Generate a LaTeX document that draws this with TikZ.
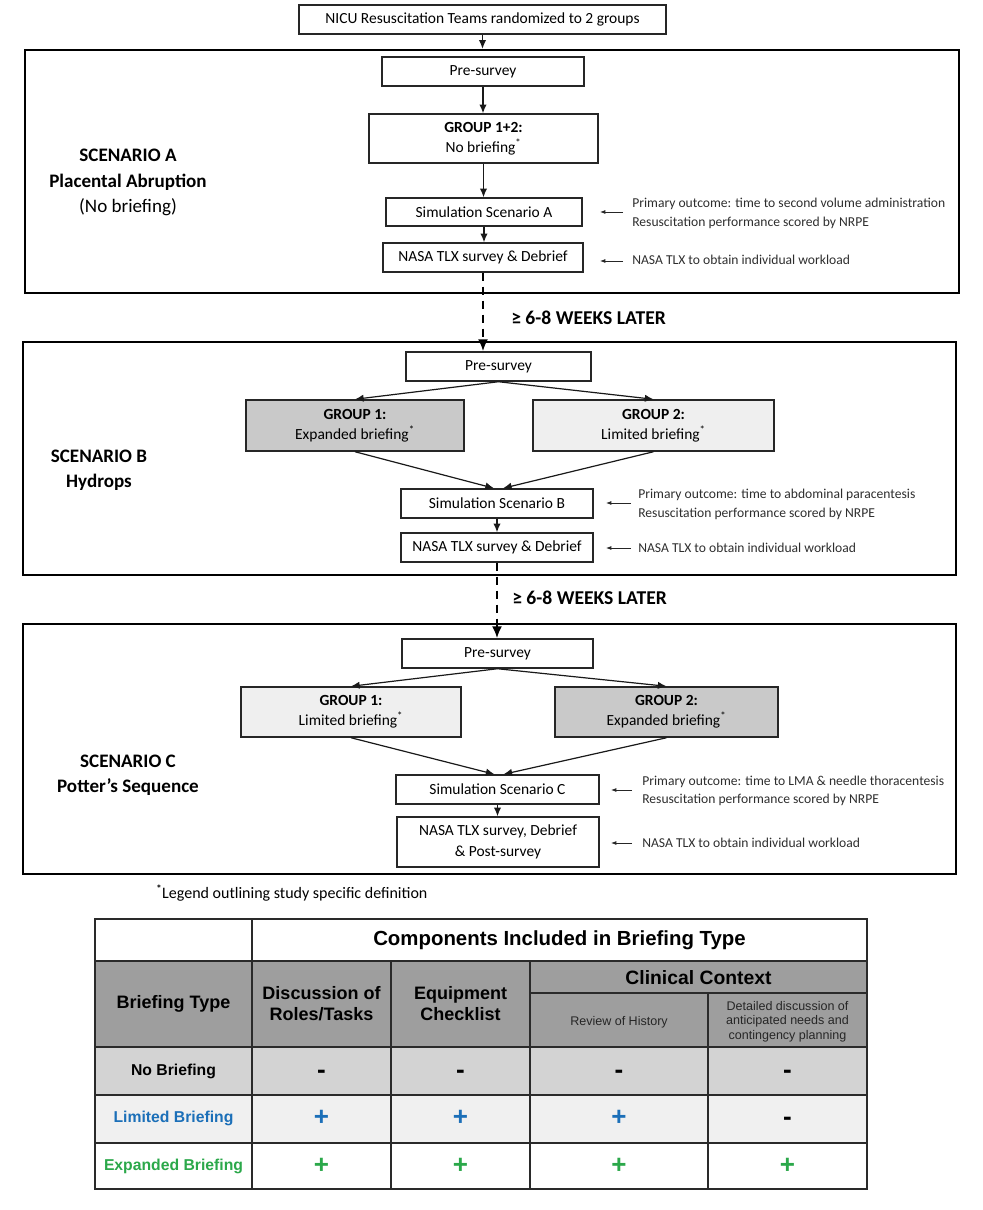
\documentclass[tikz,border=0pt]{standalone}
\usepackage{fontspec}
\setmainfont{Carlito}
\newfontfamily\arialf{Liberation Sans}
\usetikzlibrary{arrows.meta,calc}
\newdimen\pxu \pxu=0.75pt
\definecolor{gdark}{HTML}{C9C9C9}
\definecolor{glight}{HTML}{EFEFEF}
\definecolor{thead}{HTML}{9E9E9E}
\definecolor{tnone}{HTML}{D3D3D3}
\definecolor{tlim}{HTML}{F0F0F0}
\definecolor{tblue}{HTML}{1B6FB8}
\definecolor{tgreen}{HTML}{2BA84A}
\definecolor{tline}{HTML}{2A2A2A}
\definecolor{anntext}{HTML}{2E2E2E}
\newcommand\fsz[2]{\fontsize{#1}{#2}\selectfont}
\newcommand\myast{\textsuperscript{*}}
\begin{document}
\begin{tikzpicture}[x=0.75pt,y=-0.75pt,
  box/.style={draw=black!85, line width=1.1pt, fill=white, inner sep=0pt, align=center, font=\fsz{11.6}{15}},
  scen/.style={draw=black, line width=1.8pt, inner sep=0pt},
  arr/.style={draw=black!90, line width=0.9pt, -{Latex[length=6.5pt,width=5.5pt]}},
  darr/.style={draw=black, line width=1.5pt, dash pattern=on 6pt off 4.5pt, -{Latex[length=9pt,width=7.5pt]}},
  annarr/.style={draw=black!85, line width=0.7pt, -{Latex[length=4pt,width=3pt]}},
  ann/.style={anchor=west, align=left, font=\fsz{10.2}{14}, inner sep=0pt, text=anntext},
  slabel/.style={align=center, font=\fsz{14.3}{19}, inner sep=0pt},
  wk/.style={anchor=west, inner sep=0pt, font=\fsz{14.7}{18}\bfseries},
  tl/.style={draw=tline, line width=1.1pt},
  thd/.style={inner sep=0pt, align=center, font=\arialf\bfseries\fsz{13.5}{15.75}},
  trow/.style={inner sep=0pt, align=center, font=\arialf\bfseries\fsz{11.8}{14}},
  tsign/.style={inner sep=0pt, font=\arialf\bfseries\fsz{19.5}{20}},
  tsm/.style={inner sep=0pt, align=center, font=\arialf\fsz{9.4}{10.9}, text=black!85}
]
\useasboundingbox (0,0) rectangle (982,1210);

% scenario frames
\node[scen, minimum width=934\pxu, minimum height=243\pxu] (boxA) at (492,171.5) {};
\node[scen, minimum width=933\pxu, minimum height=233\pxu] (boxB) at (489.5,458.5) {};
\node[scen, minimum width=933\pxu, minimum height=250\pxu] (boxC) at (489.5,749) {};

% top
\node[box, minimum width=367\pxu, minimum height=29\pxu] (nicu) at (482.5,19.5) {NICU Resuscitation Teams randomized to 2 groups};

% Scenario A
\node[box, minimum width=202\pxu, minimum height=29\pxu] (preA) at (483,71.5) {Pre-survey};
\node[box, minimum width=229\pxu, minimum height=49\pxu] (grpA) at (483.5,138.5) {\textbf{GROUP 1+2:}\\No briefing\myast};
\node[box, minimum width=196\pxu, minimum height=28\pxu] (simA) at (484,212) {Simulation Scenario A};
\node[box, minimum width=200\pxu, minimum height=29\pxu] (nasaA) at (483,257.5) {NASA TLX survey \& Debrief};

\node[slabel] (labA) at (128,182.5) {\textbf{SCENARIO A}\\\textbf{Placental Abruption}\\(No briefing)};
\node[ann] (annA1) at (632,213.5) {Primary outcome: time to second volume administration\\Resuscitation performance scored by NRPE};
\node[ann] (annA2) at (632,260) {NASA TLX to obtain individual workload};

% Scenario B
\node[box, minimum width=185\pxu, minimum height=29\pxu] (preB) at (498.5,366.5) {Pre-survey};
\node[box, fill=gdark, minimum width=218\pxu, minimum height=51\pxu] (g1B) at (355,425.5) {\textbf{GROUP 1:}\\Expanded briefing\myast};
\node[box, fill=glight, minimum width=241\pxu, minimum height=51\pxu] (g2B) at (653.5,425.5) {\textbf{GROUP 2:}\\Limited briefing\myast};
\node[box, minimum width=192\pxu, minimum height=29\pxu] (simB) at (497,503.5) {Simulation Scenario B};
\node[box, minimum width=192\pxu, minimum height=29\pxu] (nasaB) at (497,547.5) {NASA TLX survey \& Debrief};

\node[slabel] (labB) at (99,470.5) {\textbf{SCENARIO B}\\\textbf{Hydrops}};
\node[ann] (annB1) at (638,504.5) {Primary outcome: time to abdominal paracentesis\\Resuscitation performance scored by NRPE};
\node[ann] (annB2) at (638,548) {NASA TLX to obtain individual workload};

% Scenario C
\node[box, minimum width=191\pxu, minimum height=29\pxu] (preC) at (497.5,653.5) {Pre-survey};
\node[box, fill=glight, minimum width=220\pxu, minimum height=50\pxu] (g1C) at (351,712) {\textbf{GROUP 1:}\\Limited briefing\myast};
\node[box, fill=gdark, minimum width=223\pxu, minimum height=50\pxu] (g2C) at (666.5,712) {\textbf{GROUP 2:}\\Expanded briefing\myast};
\node[box, minimum width=203\pxu, minimum height=29\pxu] (simC) at (497.5,789.5) {Simulation Scenario C};
\node[box, minimum width=202\pxu, minimum height=50\pxu, font=\fsz{11.6}{15.75}] (nasaC) at (498,842) {NASA TLX survey, Debrief\\\& Post-survey};

\node[slabel] (labC) at (128,775.5) {\textbf{SCENARIO C}\\\textbf{Potter’s Sequence}};
\node[ann] (annC1) at (642,791) {Primary outcome: time to LMA \& needle thoracentesis\\Resuscitation performance scored by NRPE};
\node[ann] (annC2) at (642,843) {NASA TLX to obtain individual workload};

% weeks labels
\node[wk] (wk1) at (511,318) {≥ 6-8 WEEKS LATER};
\node[wk] (wk2) at (512,598) {≥ 6-8 WEEKS LATER};

% legend
\node[anchor=west, inner sep=0pt, font=\fsz{12}{14}] (leg) at (156,893) {\textsuperscript{\textbf{*}}Legend outlining study specific definition};

% connectors
\draw[arr] (nicu.south) -- (nicu.south |- boxA.north);
\draw[arr] (preA.south) -- (preA.south |- grpA.north);
\draw[arr] (grpA.south) -- (grpA.south |- simA.north);
\draw[arr] (simA.south) -- (simA.south |- nasaA.north);
\draw[darr] (nasaA.south) -- (nasaA.south |- preB.north);

\draw[arr] (preB.south) -- (g1B.north);
\draw[arr] (preB.south) -- (g2B.north);
\draw[arr] (g1B.south) -- ($(simB.north)+(-3,0)$);
\draw[arr] (g2B.south) -- ($(simB.north)+(6,0)$);
\draw[arr] (simB.south) -- (nasaB.north);
\draw[darr] (nasaB.south) -- (nasaB.south |- preC.north);

\draw[arr] (preC.south) -- (g1C.north);
\draw[arr] (preC.south) -- (g2C.north);
\draw[arr] (g1C.south) -- ($(simC.north)+(-3,0)$);
\draw[arr] (g2C.south) -- ($(simC.north)+(6,0)$);
\draw[arr] (simC.south) -- (simC.south |- nasaC.north);

% annotation arrows
\draw[annarr] ($(annA1.west)+(-9,-1.5)$) -- ++(-23,0);
\draw[annarr] ($(annA2.west)+(-9,1)$) -- ++(-23,0);
\draw[annarr] ($(annB1.west)+(-7,-1.5)$) -- ++(-25,0);
\draw[annarr] ($(annB2.west)+(-7,0)$) -- ++(-25,0);
\draw[annarr] ($(annC1.west)+(-10,-1)$) -- ++(-21,0);
\draw[annarr] ($(annC2.west)+(-10,0)$) -- ++(-21,0);

% ===== table =====
\fill[white] (95,919) rectangle (867,961);
\fill[thead] (95,961) rectangle (867,1047);
\fill[tnone] (95,1047) rectangle (867,1095);
\fill[tlim] (95,1095) rectangle (867,1143);
\fill[white] (95,1143) rectangle (867,1189);
\draw[tl] (95,961) -- (867,961);
\draw[tl] (95,1047) -- (867,1047);
\draw[tl] (95,1095) -- (867,1095);
\draw[tl] (95,1143) -- (867,1143);
\draw[tl] (530,993) -- (867,993);
\draw[tl] (252,919) -- (252,1189);
\draw[tl] (391,961) -- (391,1189);
\draw[tl] (530,961) -- (530,1189);
\draw[tl] (708,993) -- (708,1189);
\draw[tl] (95,919) rectangle (867,1189);

\node[thd, font=\arialf\bfseries\fsz{15.3}{18}] (tcomp) at (559.5,940) {Components Included in Briefing Type};
\node[thd] (tbt) at (173.5,1004) {Briefing Type};
\node[thd] (tdisc) at (321.5,1003.5) {Discussion of\\Roles/Tasks};
\node[thd] (tequip) at (460.5,1003.5) {Equipment\\Checklist};
\node[thd, font=\arialf\bfseries\fsz{14.5}{16}] (tclin) at (698.5,978) {Clinical Context};
\node[tsm] (trev) at (619,1022) {Review of History};
\node[tsm] (tdet) at (787.5,1021.5) {Detailed discussion of\\anticipated needs and\\contingency planning};

\node[trow] (rnone) at (173.5,1071) {No Briefing};
\node[trow, text=tblue] (rlim) at (173.5,1118) {Limited Briefing};
\node[trow, text=tgreen] (rexp) at (173.5,1166) {Expanded Briefing};

\node[tsign] (n1) at (321.5,1074) {-};
\node[tsign] (n2) at (460.5,1074) {-};
\node[tsign] (n3) at (619,1074) {-};
\node[tsign] (n4) at (787.5,1074) {-};
\node[tsign, text=tblue] (l1) at (321.5,1118) {+};
\node[tsign, text=tblue] (l2) at (460.5,1118) {+};
\node[tsign, text=tblue] (l3) at (619,1118) {+};
\node[tsign] (l4) at (787.5,1121) {-};
\node[tsign, text=tgreen] (e1) at (321.5,1166) {+};
\node[tsign, text=tgreen] (e2) at (460.5,1166) {+};
\node[tsign, text=tgreen] (e3) at (619,1166) {+};
\node[tsign, text=tgreen] (e4) at (787.5,1166) {+};
\end{tikzpicture}
\end{document}
